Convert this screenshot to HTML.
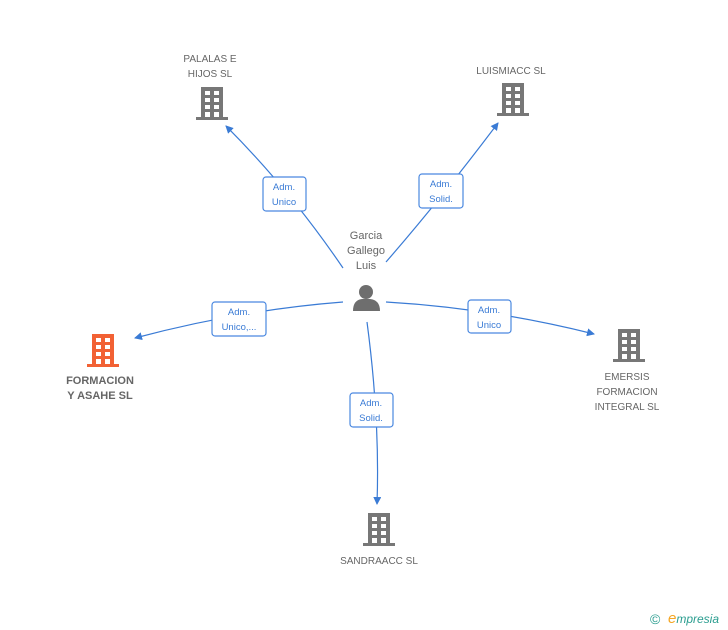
<!DOCTYPE html>
<html><head><style>
body{margin:0;width:728px;height:630px;background:#fff;overflow:hidden;font-family:"Liberation Sans",sans-serif;}
svg{position:absolute;left:0;top:0}
.t{fill:#666;font-size:11px;text-anchor:middle}
.l{fill:#3a7bd5;font-size:9.5px;text-anchor:middle}
</style></head><body>
<svg width="728" height="630" viewBox="0 0 728 630">
<defs>
<symbol id="b" viewBox="0 0 32 34">
<rect x="5" y="0" width="22" height="31"/>
<rect x="0" y="30" width="32" height="3"/>
<g fill="#fff">
<rect x="9" y="4" width="5" height="4"/><rect x="18" y="4" width="5" height="4"/>
<rect x="9" y="11" width="5" height="4"/><rect x="18" y="11" width="5" height="4"/>
<rect x="9" y="18" width="5" height="4"/><rect x="18" y="18" width="5" height="4"/>
<rect x="9" y="25" width="5" height="5"/><rect x="18" y="25" width="5" height="5"/>
</g>
</symbol>
<marker id="a" markerWidth="8" markerHeight="8" refX="7" refY="4" orient="auto" markerUnits="userSpaceOnUse"><path d="M0,0 L8,4 L0,8 Z" fill="#3a7bd5"/></marker>
</defs>
<g stroke="#3a7bd5" stroke-width="1.2" fill="none">
<path d="M343,268 Q290,190 226,126" marker-end="url(#a)"/>
<path d="M386,262 Q440,200 498,123" marker-end="url(#a)"/>
<path d="M343,302 Q240,310 135,338" marker-end="url(#a)"/>
<path d="M386,302 Q490,308 594,334" marker-end="url(#a)"/>
<path d="M367,322 Q380,420 377,504" marker-end="url(#a)"/>
</g>
<g fill="#777">
<use href="#b" x="196" y="87" width="32" height="34"/>
<use href="#b" x="497" y="83" width="32" height="34"/>
<use href="#b" x="613" y="329" width="32" height="34"/>
<use href="#b" x="363" y="513" width="32" height="34"/>
</g>
<use href="#b" x="87" y="334" width="32" height="34" fill="#f26134"/>
<g fill="#6e6e6e">
<circle cx="366" cy="292" r="7"/>
<path d="M353,311 Q353,300 362,299 L370,299 Q380,300 380,311 Z"/>
</g>
<text class="t" x="366" y="239">Garcia</text>
<text class="t" x="366" y="254">Gallego</text>
<text class="t" x="366" y="269">Luis</text>
<text class="t" x="210" y="62" style="font-size:10px">PALALAS E</text>
<text class="t" x="210" y="77" style="font-size:10px">HIJOS SL</text>
<text class="t" x="511" y="74" style="font-size:10px">LUISMIACC  SL</text>
<text class="t" x="100" y="384" style="font-weight:bold;font-size:11px">FORMACION</text>
<text class="t" x="100" y="399" style="font-weight:bold;font-size:11px">Y ASAHE SL</text>
<text class="t" x="627" y="380" style="font-size:10px">EMERSIS</text>
<text class="t" x="627" y="395" style="font-size:10px">FORMACION</text>
<text class="t" x="627" y="410" style="font-size:10px">INTEGRAL  SL</text>
<text class="t" x="379" y="564" style="font-size:10px">SANDRAACC  SL</text>
<g fill="#fff" stroke="#4a88e0" stroke-width="1.2">
<rect x="263" y="177" width="43" height="34" rx="3"/>
<rect x="419" y="174" width="44" height="34" rx="3"/>
<rect x="212" y="302" width="54" height="34" rx="3"/>
<rect x="468" y="300" width="43" height="33" rx="3"/>
<rect x="350" y="393" width="43" height="34" rx="3"/>
</g>
<text class="l" x="284" y="190">Adm.</text><text class="l" x="284" y="205">Unico</text>
<text class="l" x="441" y="187">Adm.</text><text class="l" x="441" y="202">Solid.</text>
<text class="l" x="239" y="315">Adm.</text><text class="l" x="239" y="330">Unico,...</text>
<text class="l" x="489" y="313">Adm.</text><text class="l" x="489" y="328">Unico</text>
<text class="l" x="371" y="406">Adm.</text><text class="l" x="371" y="421">Solid.</text>
<text x="650" y="624" fill="#2a9d8f" style="font-size:14px">©</text>
<text x="668" y="623" fill="#2a9d8f" style="font-size:12px;font-style:italic"><tspan fill="#f5a623" style="font-size:15px">e</tspan>mpresia</text>
</svg>
</body></html>
